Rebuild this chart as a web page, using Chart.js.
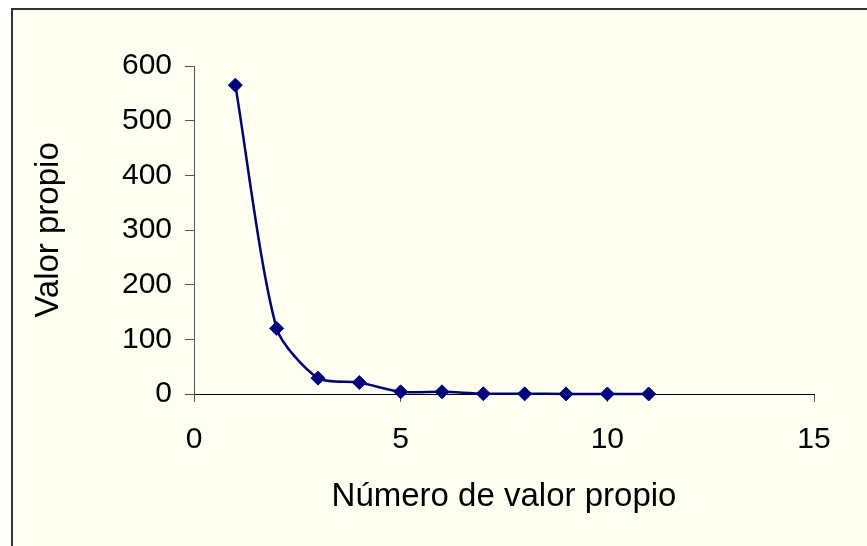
<!DOCTYPE html>
<html>
<head>
<meta charset="utf-8">
<script src="https://cdn.jsdelivr.net/npm/chart.js@4"></script>
<style>
    html, body { margin: 0; padding: 0; background: #ffffff; overflow: hidden; }
    #frame {
        position: absolute;
        left: 11px;
        top: 8px;
        width: 854px;
        height: 536px;
        border-left: 2px solid #333333;
        border-top: 2px solid #333333;
        background: #fffff0;
    }
    #screeChart { display: block; }
</style>
</head>
<body>
<div id="frame">
    <canvas id="screeChart" width="854" height="536"></canvas>
</div>
<script>
// Eigenvalue number and eigenvalue (scree plot)
const eigenNumbers = [1, 2, 3, 4, 5, 6, 7, 8, 9, 10, 11];
const eigenValues = [565, 120, 29, 21, 4, 4, 0.5, 0.3, 0.2, 0.1, 0.1];

const xTicks = [0, 5, 10, 15];
const yTicks = [0, 100, 200, 300, 400, 500, 600];

const NAVY = '#000080';
const FONT = "'Liberation Sans', Arial, sans-serif";

const points = eigenNumbers.map((n, i) => ({ x: n, y: eigenValues[i] }));

new Chart(document.getElementById('screeChart'), {
    type: 'scatter',
    data: {
        datasets: [{
            data: points,
            showLine: true,
            borderColor: NAVY,
            backgroundColor: NAVY,
            borderWidth: 2.5,
            tension: 0.25,
            pointStyle: 'rectRot',
            pointRadius: 7,
            pointBorderWidth: 1,
            pointBorderColor: NAVY,
            pointBackgroundColor: NAVY,
            clip: false
        }]
    },
    options: {
        responsive: false,
        animation: false,
        events: [],
        layout: {
            padding: { left: 0, top: 56, right: 53, bottom: 0 }
        },
        plugins: {
            legend: { display: false },
            tooltip: { enabled: false }
        },
        scales: {
            x: {
                type: 'linear',
                min: xTicks[0],
                max: xTicks[xTicks.length - 1],
                afterBuildTicks: scale => { scale.ticks = xTicks.map(v => ({ value: v })); },
                afterFit: scale => { scale.height = 152; },
                border: { display: true, color: '#000000', width: 1 },
                grid: {
                    drawOnChartArea: false,
                    drawTicks: true,
                    tickLength: 8,
                    tickColor: '#555555'
                },
                ticks: {
                    color: '#000000',
                    padding: 20,
                    maxRotation: 0,
                    font: { family: FONT, size: 30 }
                },
                title: {
                    display: true,
                    text: 'Número de valor propio',
                    color: '#000000',
                    padding: { top: 0, bottom: 29 },
                    font: { family: FONT, size: 33 }
                }
            },
            y: {
                type: 'linear',
                min: yTicks[0],
                max: yTicks[yTicks.length - 1],
                afterBuildTicks: scale => { scale.ticks = yTicks.map(v => ({ value: v })); },
                afterFit: scale => { scale.width = 181; },
                border: { display: true, color: '#555555', width: 1 },
                grid: {
                    drawOnChartArea: false,
                    drawTicks: true,
                    tickLength: 9,
                    tickColor: '#555555'
                },
                ticks: {
                    color: '#000000',
                    padding: 13,
                    font: { family: FONT, size: 30 }
                },
                title: {
                    display: true,
                    text: 'Valor propio',
                    color: '#000000',
                    padding: { top: 16, bottom: 0 },
                    font: { family: FONT, size: 33 }
                }
            }
        }
    }
});
</script>
</body>
</html>
